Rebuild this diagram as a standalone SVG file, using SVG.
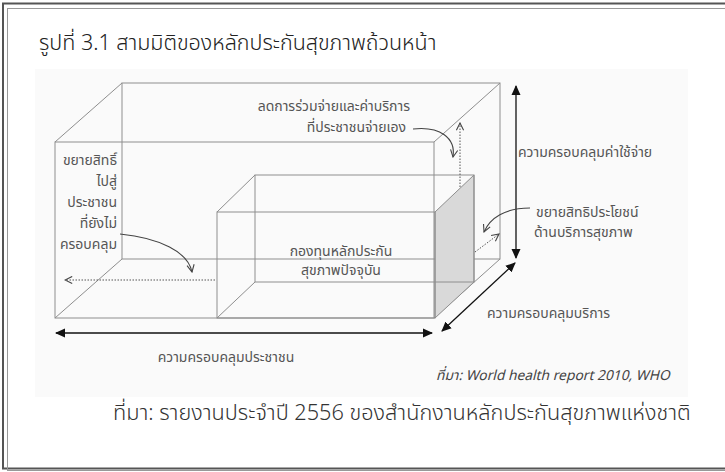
<svg xmlns="http://www.w3.org/2000/svg" width="725" height="472" viewBox="0 0 725 472">
<defs>
<marker id="solid" viewBox="0 0 10 10" refX="9" refY="5" markerWidth="10" markerHeight="10" markerUnits="userSpaceOnUse" orient="auto-start-reverse">
<path d="M0,0.5 L10,5 L0,9.5 z" fill="#111"/>
</marker>
<marker id="vee" viewBox="0 0 10 10" refX="9" refY="5" markerWidth="9" markerHeight="9" markerUnits="userSpaceOnUse" orient="auto">
<path d="M1,1 L9,5 L1,9" fill="none" stroke="#444" stroke-width="1.2"/>
</marker>
<style>
.edge{stroke:#8e8e8e;stroke-width:1;fill:none}
.lbl{font-family:'Noto Sans Thai','Noto Sans',sans-serif;font-size:14px;fill:#555}
.dim{stroke:#111;stroke-width:1.3;fill:none}
.curve{stroke:#444;stroke-width:1.1;fill:none}
.dot{stroke:#555;stroke-width:1;stroke-dasharray:1.5 1.5;fill:none}
</style>
</defs>
<rect width="725" height="472" fill="#ffffff"/>
<g id="frame">
<rect x="3" y="3.5" width="740" height="465" fill="none" stroke="#555" stroke-width="2"/>
<rect x="7.5" y="8.5" width="740" height="462" fill="none" stroke="#999" stroke-width="1"/>
<text x="39" y="50" font-family="'Noto Sans Thai','Noto Sans',sans-serif" font-size="21.5" font-weight="300" fill="#222">รูปที่ 3.1 สามมิติของหลักประกันสุขภาพถ้วนหน้า</text>
</g>
<rect x="35" y="69" width="653" height="328" fill="#fafafa"/>
<g id="outer-box">
<rect x="122" y="83" width="378" height="176" class="edge"/>
<rect x="55" y="142" width="379" height="176" class="edge"/>
<path class="edge" d="M55,142 L122,83 M434,142 L500,83 M55,318 L122,259 M434,318 L500,259"/>
</g>
<g id="inner-box">
<path d="M435,212 L474,175 L474,282 L435,318 z" fill="#d9d9d9" stroke="#8e8e8e"/>
<rect x="255" y="175" width="219" height="107" class="edge"/>
<rect x="217" y="212" width="218" height="106" class="edge"/>
<path class="edge" d="M217,212 L255,175 M217,318 L255,282"/>
<text class="lbl" x="341" y="256" text-anchor="middle">กองทุนหลักประกัน</text>
<text class="lbl" x="341" y="275" text-anchor="middle">สุขภาพปัจจุบัน</text>
</g>
<g id="connectors">
<path class="dim" d="M516,86 L516,258" marker-start="url(#solid)" marker-end="url(#solid)"/>
<path class="dim" d="M56,333 L432,333" marker-start="url(#solid)" marker-end="url(#solid)"/>
<path class="dim" d="M442,331 L515,263" marker-start="url(#solid)" marker-end="url(#solid)"/>
<path class="curve" d="M413,129 C440,126 456,138 453,157" marker-end="url(#vee)"/>
<path class="curve" d="M530,208 C505,208 490,218 484,232" marker-end="url(#vee)"/>
<path class="curve" d="M120,234 C160,238 188,252 192,272" marker-end="url(#vee)"/>
<path class="dot" d="M460,187 L460,123" marker-end="url(#vee)"/>
<path class="dot" d="M475,252 L499,234" marker-end="url(#vee)"/>
<path class="dot" d="M215,280 L65,280" marker-end="url(#vee)"/>
</g>
<g id="label-copay">
<text class="lbl" x="410" y="111" text-anchor="end">ลดการร่วมจ่ายและค่าบริการ</text>
<text class="lbl" x="406" y="132" text-anchor="end">ที่ประชาชนจ่ายเอง</text>
</g>
<g id="label-cost">
<text class="lbl" x="518" y="157">ความครอบคลุมค่าใช้จ่าย</text>
</g>
<g id="label-benefit">
<text class="lbl" x="536" y="217">ขยายสิทธิประโยชน์</text>
<text class="lbl" x="534" y="237">ด้านบริการสุขภาพ</text>
</g>
<g id="label-service">
<text class="lbl" x="487" y="318">ความครอบคลุมบริการ</text>
</g>
<g id="label-population">
<text class="lbl" x="226" y="362" text-anchor="middle">ความครอบคลุมประชาชน</text>
</g>
<g id="label-extend">
<text class="lbl" x="117" y="165" text-anchor="end">ขยายสิทธิ์</text>
<text class="lbl" x="117" y="186" text-anchor="end">ไปสู่</text>
<text class="lbl" x="117" y="207" text-anchor="end">ประชาชน</text>
<text class="lbl" x="117" y="228" text-anchor="end">ที่ยังไม่</text>
<text class="lbl" x="117" y="249" text-anchor="end">ครอบคลุม</text>
</g>
<g id="sources">
<text x="436" y="380" font-family="'Noto Sans Thai','Noto Sans',sans-serif" font-size="13.8" font-style="italic" fill="#444">ที่มา: World health report 2010, WHO</text>
<text x="113" y="420" font-family="'Noto Sans Thai','Noto Sans',sans-serif" font-size="21.7" font-weight="300" fill="#333">ที่มา: รายงานประจำปี 2556 ของสำนักงานหลักประกันสุขภาพแห่งชาติ</text>
</g>
</svg>
